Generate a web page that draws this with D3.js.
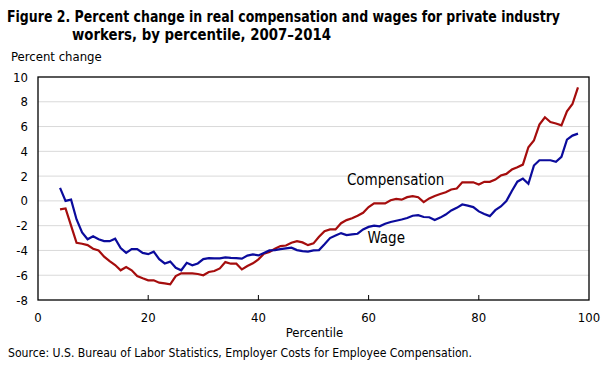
<!DOCTYPE html>
<html>
<head>
<meta charset="utf-8">
<script src="https://cdn.jsdelivr.net/npm/d3@7"></script>
<style>
  body { margin: 0; background: #fff; }
  text { font-family: "Liberation Sans Narrow", "DejaVu Sans Condensed", "Roboto", sans-serif; }
</style>
</head>
<body>
<div id="chart"></div>
<script>
// percentiles 4..98
var percentiles = d3.range(4, 99);

var wage = [1.05, 0.0, 0.1, -1.5, -2.55, -3.1, -2.85, -3.1, -3.25, -3.25,
  -3.05, -3.8, -4.2, -3.9, -3.9, -4.2, -4.3, -4.1, -4.7, -5.05,
  -4.9, -5.4, -5.6, -5.0, -5.2, -5.05, -4.7, -4.62, -4.64, -4.64,
  -4.56, -4.6, -4.62, -4.66, -4.42, -4.32, -4.4, -4.2, -4.0, -3.97,
  -3.9, -3.84, -3.78, -3.97, -4.05, -4.1, -4.0, -3.97, -3.5, -3.0,
  -2.8, -2.6, -2.76, -2.7, -2.65, -2.3, -2.1, -2.0, -2.05, -1.85,
  -1.7, -1.6, -1.5, -1.38, -1.2, -1.15, -1.3, -1.32, -1.55, -1.35,
  -1.1, -0.77, -0.56, -0.29, -0.38, -0.5, -0.85, -1.05, -1.23, -0.75,
  -0.45, -0.02, 0.8, 1.55, 1.8, 1.38, 2.85, 3.28, 3.28, 3.28,
  3.15, 3.55, 4.95, 5.27, 5.43];

var compensation = [-0.69, -0.61, -2.0, -3.38, -3.46, -3.57, -3.86, -4.0, -4.5, -4.86,
  -5.18, -5.6, -5.34, -5.6, -6.07, -6.25, -6.41, -6.41, -6.6, -6.66,
  -6.74, -6.07, -5.85, -5.85, -5.85, -5.9, -6.0, -5.74, -5.66, -5.45,
  -4.94, -5.07, -5.07, -5.53, -5.26, -5.04, -4.72, -4.27, -4.13, -3.86,
  -3.65, -3.6, -3.38, -3.25, -3.35, -3.57, -3.43, -2.9, -2.44, -2.3,
  -2.3, -1.8, -1.55, -1.4, -1.2, -0.96, -0.5, -0.2, -0.2, -0.2,
  0.05, 0.16, 0.1, 0.3, 0.38, 0.3, -0.1, 0.2, 0.4, 0.55,
  0.7, 0.92, 1.0, 1.5, 1.5, 1.5, 1.32, 1.54, 1.54, 1.72,
  2.05, 2.18, 2.53, 2.72, 2.93, 4.33, 4.87, 6.16, 6.75, 6.37,
  6.25, 6.1, 7.23, 7.82, 9.16];

var yTicks = [-8, -6, -4, -2, 0, 2, 4, 6, 8, 10];
var xTicks = [0, 20, 40, 60, 80, 100];

var W = 613, H = 368;
var margin = {top: 77, right: 24, bottom: 68, left: 38},
    width = W - margin.left - margin.right,
    height = H - margin.top - margin.bottom;

var svg = d3.select("#chart")
  .append("svg")
    .attr("width", W)
    .attr("height", H);

// Title
svg.append("text")
    .attr("x", 7).attr("y", 22)
    .attr("font-size", "15px").attr("font-weight", "bold")
    .attr("textLength", 553).attr("lengthAdjust", "spacingAndGlyphs")
    .text("Figure 2. Percent change in real compensation and wages for private industry");
svg.append("text")
    .attr("x", 72).attr("y", 40)
    .attr("font-size", "15px").attr("font-weight", "bold")
    .attr("textLength", 259).attr("lengthAdjust", "spacingAndGlyphs")
    .text("workers, by percentile, 2007\u20132014");

svg.append("text")
    .attr("x", 11).attr("y", 61)
    .attr("font-size", "13px")
    .text("Percent change");

var g = svg.append("g")
    .attr("transform", "translate(" + margin.left + "," + margin.top + ")");

var x = d3.scaleLinear().domain([0, 100]).range([0, width]);
var y = d3.scaleLinear().domain([-8, 10]).range([height, 0]);

// gridlines
g.selectAll(".grid")
  .data(yTicks.filter(function(d) { return d > -8 && d < 10; }))
  .enter().append("line")
    .attr("x1", 0).attr("x2", width)
    .attr("y1", function(d) { return y(d); })
    .attr("y2", function(d) { return y(d); })
    .attr("stroke", "#d9d9d9")
    .attr("stroke-width", 1);

// y tick labels
g.selectAll(".ylab")
  .data(yTicks)
  .enter().append("text")
    .attr("x", -10)
    .attr("y", function(d) { return y(d); })
    .attr("dy", "0.35em")
    .attr("text-anchor", "end")
    .attr("font-size", "13px")
    .text(function(d) { return d; });

// x ticks (inside, upward) and labels
g.selectAll(".xtick")
  .data(xTicks.filter(function(d) { return d > 0 && d < 100; }))
  .enter().append("line")
    .attr("x1", function(d) { return x(d); })
    .attr("x2", function(d) { return x(d); })
    .attr("y1", height).attr("y2", height - 5)
    .attr("stroke", "#000");

g.selectAll(".xlab")
  .data(xTicks)
  .enter().append("text")
    .attr("x", function(d) { return x(d); })
    .attr("y", height + 22)
    .attr("text-anchor", "middle")
    .attr("font-size", "13px")
    .text(function(d) { return d; });

g.append("text")
    .attr("x", width / 2 + 1).attr("y", height + 37)
    .attr("text-anchor", "middle")
    .attr("font-size", "13px")
    .text("Percentile");

// lines
var line = function(vals) {
  return d3.line()
    .x(function(d, i) { return x(percentiles[i]); })
    .y(function(d) { return y(d); })(vals);
};

g.append("path")
    .attr("d", line(compensation))
    .attr("fill", "none")
    .attr("stroke", "#a50d0d")
    .attr("stroke-width", 2.2);

g.append("path")
    .attr("d", line(wage))
    .attr("fill", "none")
    .attr("stroke", "#0b0b9c")
    .attr("stroke-width", 2.2);

// frame
g.append("rect")
    .attr("width", width).attr("height", height)
    .attr("fill", "none")
    .attr("stroke", "#000")
    .attr("stroke-width", 1.3);

// labels
g.append("text")
    .attr("x", x(64.9)).attr("y", y(1.3))
    .attr("text-anchor", "middle")
    .attr("font-size", "15px")
    .text("Compensation");
g.append("text")
    .attr("x", x(63.2)).attr("y", y(-3.4))
    .attr("text-anchor", "middle")
    .attr("font-size", "15px")
    .text("Wage");

// source
svg.append("text")
    .attr("x", 8).attr("y", 357)
    .attr("font-size", "13px")
    .attr("textLength", 464).attr("lengthAdjust", "spacingAndGlyphs")
    .text("Source: U.S. Bureau of Labor Statistics, Employer Costs for Employee Compensation.");
</script>
</body>
</html>
